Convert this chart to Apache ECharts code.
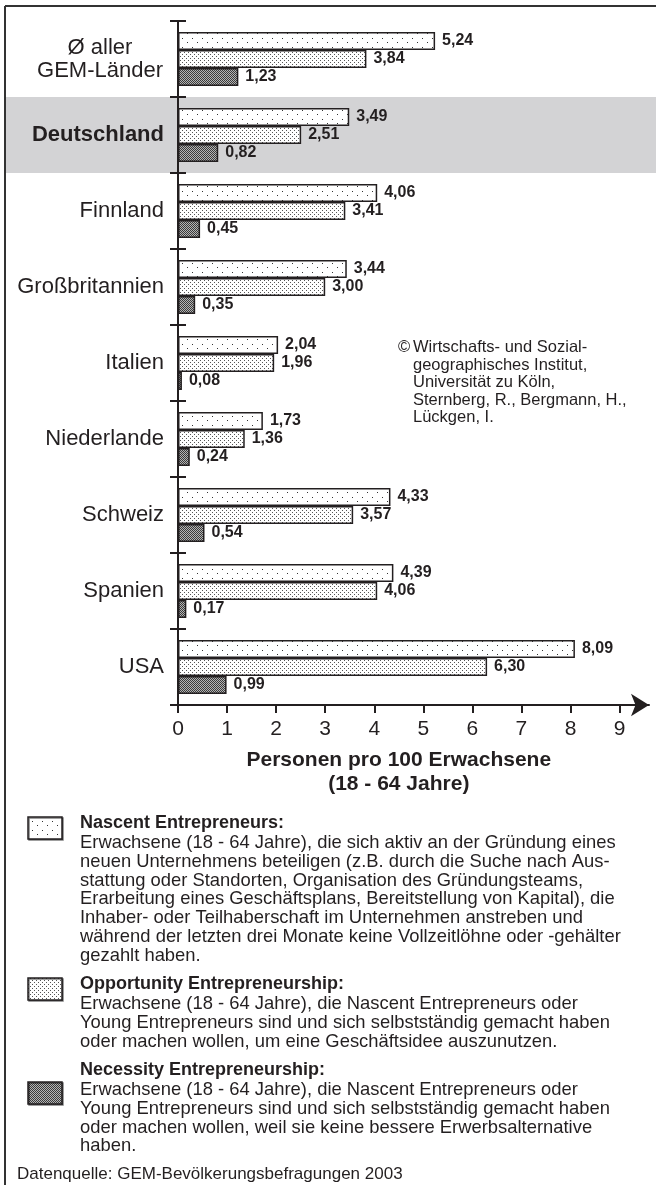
<!DOCTYPE html>
<html>
<head>
<meta charset="utf-8">
<script src="https://cdn.jsdelivr.net/npm/echarts@6/dist/echarts.min.js"></script>
<style>
  html, body { margin: 0; padding: 0; background: #fff; }
  #chart { width: 656px; height: 1185px; }
</style>
</head>
<body>
<div id="chart"></div>
<script>
const categories = ['Ø aller GEM-Länder', 'Deutschland', 'Finnland', 'Großbritannien', 'Italien', 'Niederlande', 'Schweiz', 'Spanien', 'USA']
const nascent = [5.24, 3.49, 4.06, 3.44, 2.04, 1.73, 4.33, 4.39, 8.09]
const opportunity = [3.84, 2.51, 3.41, 3.00, 1.96, 1.36, 3.57, 4.06, 6.30]
const necessity = [1.23, 0.82, 0.45, 0.35, 0.08, 0.24, 0.54, 0.17, 0.99]
const xTicks = [0, 1, 2, 3, 4, 5, 6, 7, 8, 9]
const seriesNames = ['Nascent Entrepreneurs', 'Opportunity Entrepreneurship', 'Necessity Entrepreneurship']

const FONT = "'Liberation Sans', Arial, sans-serif"
const INK = '#231f20'

function makePattern(w, h, bg, dotColor, dots) {
  const c = document.createElement('canvas')
  c.width = w
  c.height = h
  const ctx = c.getContext('2d')
  ctx.fillStyle = bg
  ctx.fillRect(0, 0, w, h)
  ctx.fillStyle = dotColor
  dots.forEach(([x, y]) => ctx.fillRect(x, y, 1, 1))
  return { image: c, repeat: 'repeat' }
}

const patterns = [
  makePattern(10, 9, '#ffffff', '#333', [[2, 2], [7, 6]]),
  makePattern(4, 4, '#ffffff', '#555', [[0, 0], [2, 2]]),
  makePattern(2, 2, '#b4b4b4', '#3a3a3a', [[0, 0], [1, 1]]),
]

function fmt(v) {
  return v.toFixed(2).replace('.', ',')
}

function barSeries(name, data, idx) {
  return {
    name,
    type: 'bar',
    data,
    barWidth: 18,
    barGap: '0%',
    z: 3,
    itemStyle: { color: patterns[idx], borderColor: INK, borderWidth: 1.5 },
    label: {
      show: true,
      position: 'right',
      distance: 7,
      color: INK,
      fontFamily: FONT,
      fontWeight: 'bold',
      fontSize: 16,
      formatter: (p) => fmt(p.value),
    },
  }
}

const chart = echarts.init(document.getElementById('chart'))

chart.setOption({
  animation: false,
  grid: { left: 178, top: 21, width: 471, height: 684 },
  xAxis: {
    type: 'value',
    min: 0,
    max: 9.6,
    interval: 1,
    splitLine: { show: false },
    axisLine: {
      show: true,
      symbol: ['none', 'arrow'],
      symbolSize: [17, 18],
      lineStyle: { color: INK, width: 2 },
    },
    axisTick: { show: true, length: 8, customValues: xTicks, lineStyle: { color: INK, width: 2 } },
    axisLabel: {
      customValues: xTicks,
      margin: 14,
      color: INK,
      fontFamily: FONT,
      fontSize: 21,
    },
  },
  yAxis: [
    {
      type: 'category',
      position: 'left',
      data: categories,
      inverse: true,
      axisLine: { show: true, lineStyle: { color: INK, width: 2 } },
      axisTick: { show: true, length: 8, lineStyle: { color: INK, width: 2 } },
      axisLabel: {
        margin: 14,
        color: INK,
        fontFamily: FONT,
        fontSize: 22,
        formatter: (v) => {
          if (v === 'Ø aller GEM-Länder') return '{c|Ø aller}\n{c|GEM-Länder}'
          if (v === 'Deutschland') return '{b|Deutschland}'
          return v
        },
        rich: {
          c: { width: 128, align: 'center', fontSize: 22, fontFamily: FONT, color: INK, lineHeight: 23 },
          b: { fontSize: 22, fontWeight: 'bold', fontFamily: FONT, color: INK },
        },
      },
    },
    {
      type: 'category',
      position: 'left',
      data: categories,
      inverse: true,
      axisLine: { show: false },
      axisLabel: { show: false },
      axisTick: { show: true, inside: true, length: 8, lineStyle: { color: INK, width: 2 } },
    },
  ],
  series: [
    barSeries(seriesNames[0], nascent, 0),
    barSeries(seriesNames[1], opportunity, 1),
    barSeries(seriesNames[2], necessity, 2),
  ],
})

// decorations placed from the axes
const y0 = chart.convertToPixel({ yAxisIndex: 0 }, categories[1])
const y1 = chart.convertToPixel({ yAxisIndex: 0 }, categories[2])
const step = y1 - y0
const nameX = chart.convertToPixel({ xAxisIndex: 0 }, 4.5)

const bodyStyle = { fill: INK, font: `18.4px ${FONT}`, lineHeight: 18.8, textVerticalAlign: 'top' }
const headStyle = { fill: INK, font: `bold 18px ${FONT}`, textVerticalAlign: 'middle' }

function legendBox(y, idx) {
  return {
    type: 'rect',
    shape: { x: 28, y, width: 34, height: 22 },
    style: { fill: patterns[idx], stroke: INK, lineWidth: 1.5, shadowColor: 'rgba(0,0,0,0.5)', shadowOffsetX: 1, shadowOffsetY: 1 },
  }
}

chart.setOption({
  graphic: [
    { type: 'rect', z: -10, shape: { x: 5, y: y0 - step / 2, width: 651, height: step }, style: { fill: '#d3d3d5' } },
    { type: 'line', shape: { x1: 5, y1: 6, x2: 656, y2: 6 }, style: { stroke: '#333', lineWidth: 2 } },
    { type: 'line', shape: { x1: 5, y1: 6, x2: 5, y2: 1185 }, style: { stroke: '#333', lineWidth: 2 } },
    {
      type: 'text', x: nameX, y: 760,
      style: { text: 'Personen pro 100 Erwachsene', font: `bold 21px ${FONT}`, fill: INK, textAlign: 'center', textVerticalAlign: 'middle' },
    },
    {
      type: 'text', x: nameX, y: 784,
      style: { text: '(18 - 64 Jahre)', font: `bold 21px ${FONT}`, fill: INK, textAlign: 'center', textVerticalAlign: 'middle' },
    },
    { type: 'text', x: 398, y: 339, style: { text: '©', font: `16.5px ${FONT}`, fill: INK } },
    {
      type: 'text', x: 413, y: 339,
      style: {
        text: 'Wirtschafts- und Sozial-\ngeographisches Institut,\nUniversität zu Köln,\nSternberg, R., Bergmann, H.,\nLückgen, I.',
        font: `16.5px ${FONT}`, fill: INK, lineHeight: 17.5,
      },
    },
    legendBox(817, 0),
    legendBox(978, 1),
    legendBox(1082, 2),
    { type: 'text', x: 80, y: 823, style: Object.assign({ text: 'Nascent Entrepreneurs:' }, headStyle) },
    {
      type: 'text', x: 80, y: 833.6,
      style: Object.assign({
        text: 'Erwachsene (18 - 64 Jahre), die sich aktiv an der Gründung eines\n' +
          'neuen Unternehmens beteiligen (z.B. durch die Suche nach Aus-\n' +
          'stattung oder Standorten, Organisation des Gründungsteams,\n' +
          'Erarbeitung eines Geschäftsplans, Bereitstellung von Kapital), die\n' +
          'Inhaber- oder Teilhaberschaft im Unternehmen anstreben und\n' +
          'während der letzten drei Monate keine Vollzeitlöhne oder -gehälter\n' +
          'gezahlt haben.',
      }, bodyStyle),
    },
    { type: 'text', x: 80, y: 984, style: Object.assign({ text: 'Opportunity Entrepreneurship:' }, headStyle) },
    {
      type: 'text', x: 80, y: 994.6,
      style: Object.assign({
        text: 'Erwachsene (18 - 64 Jahre), die Nascent Entrepreneurs oder\n' +
          'Young Entrepreneurs sind und sich selbstständig gemacht haben\n' +
          'oder machen wollen, um eine Geschäftsidee auszunutzen.',
      }, bodyStyle),
    },
    { type: 'text', x: 80, y: 1070, style: Object.assign({ text: 'Necessity Entrepreneurship:' }, headStyle) },
    {
      type: 'text', x: 80, y: 1080.6,
      style: Object.assign({
        text: 'Erwachsene (18 - 64 Jahre), die Nascent Entrepreneurs oder\n' +
          'Young Entrepreneurs sind und sich selbstständig gemacht haben\n' +
          'oder machen wollen, weil sie keine bessere Erwerbsalternative\n' +
          'haben.',
      }, bodyStyle),
    },
    { type: 'text', x: 17, y: 1174, style: { text: 'Datenquelle: GEM-Bevölkerungsbefragungen 2003', font: `17px ${FONT}`, fill: INK, textVerticalAlign: 'middle' } },
  ],
})
</script>
</body>
</html>
